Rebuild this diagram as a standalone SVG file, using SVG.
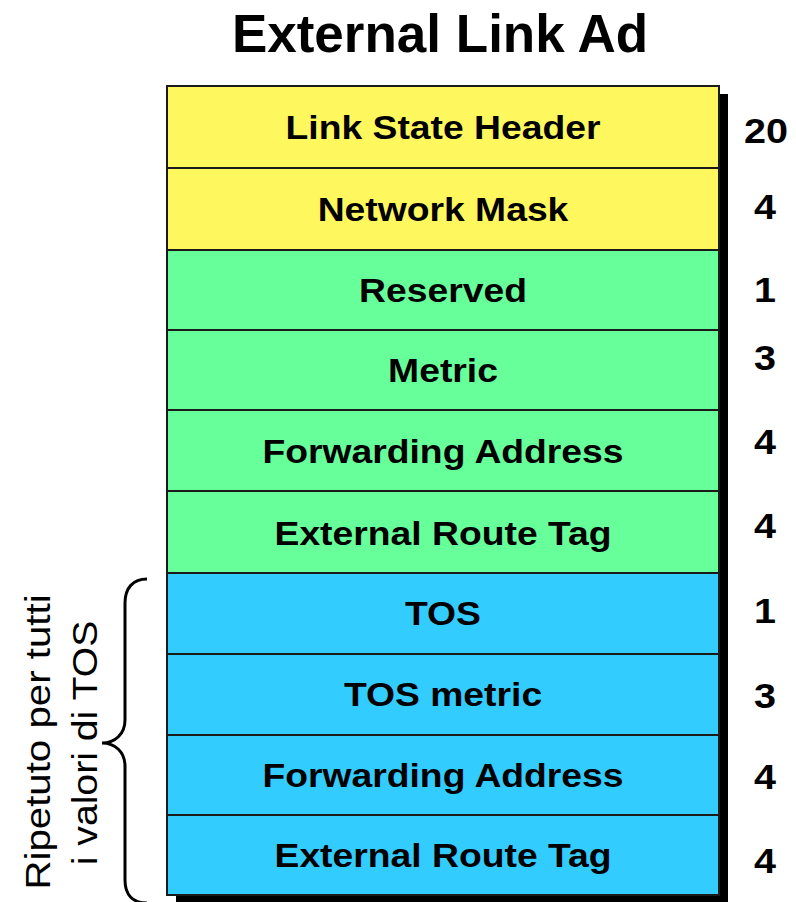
<svg xmlns="http://www.w3.org/2000/svg" width="796" height="902" viewBox="0 0 796 902">
<style>
.title{font-family:"Liberation Sans",Arial,sans-serif;font-weight:bold;font-size:53px;fill:#000}
.lbl{font-family:"Liberation Sans",Arial,sans-serif;font-weight:bold;font-size:33px;fill:#000;text-anchor:middle}
.num{font-family:"Liberation Sans",Arial,sans-serif;font-weight:bold;font-size:35px;fill:#000;text-anchor:middle}
.side{font-family:"Liberation Sans",Arial,sans-serif;font-size:35px;fill:#000;text-anchor:middle}
.row{stroke:#1a1a1a;stroke-width:2}
.y{fill:#FFF75E}.g{fill:#66FF99}.b{fill:#33CCFF}
</style>
<rect width="796" height="902" fill="#fff"/>
<text class="title" x="440" y="52" text-anchor="middle">External Link Ad</text>
<rect id="shadow" x="176" y="94" width="552" height="812" fill="#000"/>
<g id="row1"><rect class="row y" x="167" y="86" width="552" height="82"/><text class="lbl" transform="translate(443,139) scale(1.13,1)">Link State Header</text><text class="num" transform="translate(766,143) scale(1.13,1)">20</text></g>
<g id="row2"><rect class="row y" x="167" y="168" width="552" height="82"/><text class="lbl" transform="translate(443,221) scale(1.13,1)">Network Mask</text><text class="num" transform="translate(765,219) scale(1.13,1)">4</text></g>
<g id="row3"><rect class="row g" x="167" y="250" width="552" height="80"/><text class="lbl" transform="translate(443,302) scale(1.13,1)">Reserved</text><text class="num" transform="translate(765,302) scale(1.13,1)">1</text></g>
<g id="row4"><rect class="row g" x="167" y="330" width="552" height="80"/><text class="lbl" transform="translate(443,382) scale(1.13,1)">Metric</text><text class="num" transform="translate(765,370) scale(1.13,1)">3</text></g>
<g id="row5"><rect class="row g" x="167" y="410" width="552" height="81"/><text class="lbl" transform="translate(443,463) scale(1.13,1)">Forwarding Address</text><text class="num" transform="translate(765,454) scale(1.13,1)">4</text></g>
<g id="row6"><rect class="row g" x="167" y="491" width="552" height="82"/><text class="lbl" transform="translate(443,545) scale(1.13,1)">External Route Tag</text><text class="num" transform="translate(765,538) scale(1.13,1)">4</text></g>
<g id="row7"><rect class="row b" x="167" y="573" width="552" height="81"/><text class="lbl" transform="translate(443,625) scale(1.13,1)">TOS</text><text class="num" transform="translate(765,623) scale(1.13,1)">1</text></g>
<g id="row8"><rect class="row b" x="167" y="654" width="552" height="81"/><text class="lbl" transform="translate(443,706) scale(1.13,1)">TOS metric</text><text class="num" transform="translate(765,708) scale(1.13,1)">3</text></g>
<g id="row9"><rect class="row b" x="167" y="735" width="552" height="80"/><text class="lbl" transform="translate(443,787) scale(1.13,1)">Forwarding Address</text><text class="num" transform="translate(765,789) scale(1.13,1)">4</text></g>
<g id="row10"><rect class="row b" x="167" y="815" width="552" height="80"/><text class="lbl" transform="translate(443,867) scale(1.13,1)">External Route Tag</text><text class="num" transform="translate(765,873) scale(1.13,1)">4</text></g>
<g id="brace"><path d="M147,579 C133,579 125,588 125,603 L125,720 C125,734 115,743 102,743 C115,743 125,752 125,766 L125,880 C125,895 133,903 147,903" fill="none" stroke="#000" stroke-width="3"/></g>
<g id="sidelabel">
<text class="side" transform="translate(50,742) rotate(-90) scale(1.15,1)">Ripetuto per tutti</text>
<text class="side" transform="translate(97,743) rotate(-90) scale(1.12,1)">i valori di TOS</text>
</g>
</svg>
